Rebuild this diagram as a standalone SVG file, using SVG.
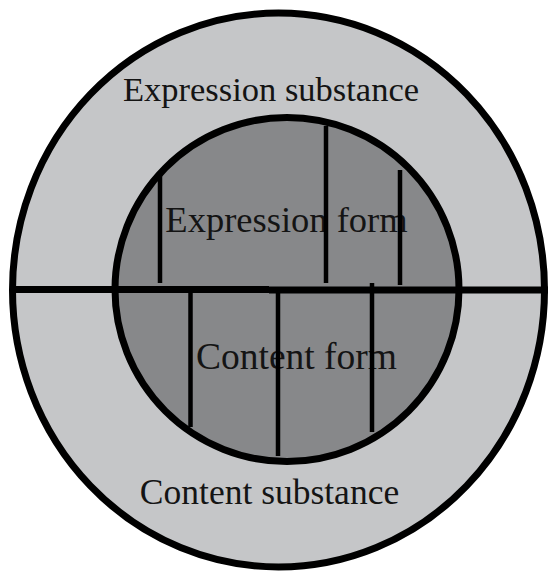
<svg xmlns="http://www.w3.org/2000/svg" width="553" height="571" viewBox="0 0 553 571">
<style>
.ring{fill:#c5c6c8;stroke:#000;stroke-width:7}
.core{fill:#87888a;stroke:#000;stroke-width:7}
.lbl{font-family:"Liberation Serif","Times New Roman",serif;fill:#141414;text-anchor:middle}
.div{stroke:#000;stroke-width:7;fill:none}
.tick{stroke:#000;stroke-width:4.5;fill:none}
</style>
<rect width="553" height="571" fill="#fff"/>
<g id="substance">
<ellipse class="ring" cx="278.5" cy="290" rx="266" ry="277"/>
</g>
<g id="form">
<ellipse class="core" cx="287" cy="289.5" rx="172" ry="172"/>
</g>
<g id="expression-substance"><text class="lbl" x="271" y="101" font-size="34.5">Expression substance</text></g>
<g id="content-substance"><text class="lbl" x="269.5" y="504" font-size="35.5">Content substance</text></g>
<g id="expression-form"><text class="lbl" x="286.5" y="231.5" font-size="36.5">Expression form</text></g>
<g id="content-form"><text class="lbl" x="296.5" y="369" font-size="37.5">Content form</text></g>
<g id="connectors">
<line class="div" x1="13" y1="289.5" x2="269" y2="289.5"/>
<line class="div" x1="269" y1="290" x2="548" y2="290"/>
<line class="tick" x1="160" y1="172" x2="160" y2="283"/>
<line class="tick" x1="326" y1="126" x2="326" y2="283"/>
<line class="tick" x1="400" y1="170" x2="400" y2="285"/>
<line class="tick" x1="190.5" y1="292" x2="190.5" y2="427"/>
<line class="tick" x1="278" y1="292" x2="278" y2="456"/>
<line class="tick" x1="372" y1="283" x2="372" y2="432"/>
</g>
</svg>
